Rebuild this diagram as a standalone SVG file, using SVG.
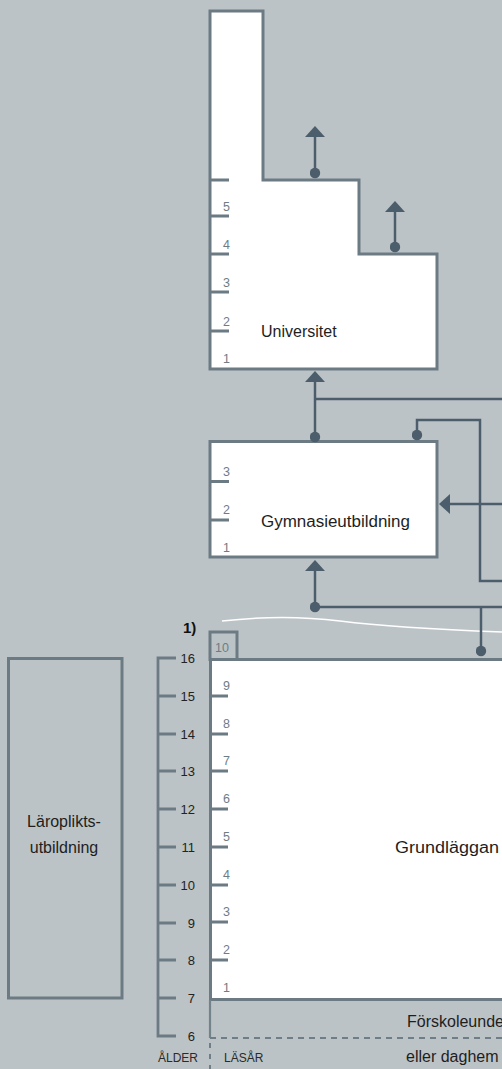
<svg xmlns="http://www.w3.org/2000/svg" width="502" height="1069" viewBox="0 0 502 1069">
<defs>
<style>
.box{fill:#ffffff;stroke:#6c7b83;stroke-width:3}
.boxg{fill:none;stroke:#6c7b83;stroke-width:3}
.tick{stroke:#6c7b83;stroke-width:2.8;fill:none}
.num{font-family:"Liberation Sans",Arial,sans-serif;font-size:12.5px;fill:#6e7d85}
.lbl{font-family:"Liberation Sans",Arial,sans-serif;font-size:16px;fill:#1e1e1e}
.age{font-family:"Liberation Sans",Arial,sans-serif;font-size:13px;fill:#222222;text-anchor:end}
.small{font-family:"Liberation Sans",Arial,sans-serif;font-size:12px;fill:#2a2a2a}
.con{stroke:#4c5e6b;stroke-width:2.5;fill:none}
</style>
<marker id="arrow" markerUnits="userSpaceOnUse" markerWidth="11" markerHeight="20" viewBox="0 0 11 20" refX="0" refY="10" orient="auto">
<path d="M0,0 L11,10 L0,20 Z" fill="#4c5e6b"/>
</marker>
<marker id="dot" markerUnits="userSpaceOnUse" markerWidth="11" markerHeight="11" viewBox="0 0 11 11" refX="5.5" refY="5.5">
<circle cx="5.5" cy="5.5" r="5.2" fill="#4c5e6b"/>
</marker>
</defs>
<rect x="0" y="0" width="502" height="1069" fill="#bcc3c6"/>

<g id="universitet">
<path class="box" d="M210,11 H263 V180 H359 V254 H437 V369 H210 Z"/>
<path class="tick" d="M210,180 H229 M210,216 H229 M210,254 H229 M210,292 H229 M210,331 H229"/>
<text class="num" x="223" y="211">5</text>
<text class="num" x="223" y="249">4</text>
<text class="num" x="223" y="287">3</text>
<text class="num" x="223" y="326">2</text>
<text class="num" x="223" y="363">1</text>
<text class="lbl" x="261" y="337">Universitet</text>
</g>

<g id="gymnasieutbildning">
<rect class="box" x="210" y="441.5" width="227" height="115.5"/>
<path class="tick" d="M210,481.5 H229 M210,520 H229"/>
<text class="num" x="223" y="476">3</text>
<text class="num" x="223" y="514">2</text>
<text class="num" x="223" y="552">1</text>
<text class="lbl" x="261" y="527" textLength="149" lengthAdjust="spacingAndGlyphs">Gymnasieutbildning</text>
</g>

<g id="grundlaggande">
<rect class="boxg" x="210" y="632" width="27" height="27.5"/>
<text class="num" x="215" y="652">10</text>
<rect class="box" x="210.5" y="659.5" width="300" height="340"/>
<path class="tick" d="M210,696 H228 M210,734 H228 M210,771 H228 M210,809 H228 M210,847 H228 M210,885 H228 M210,922 H228 M210,960 H228"/>
<text class="num" x="223" y="690">9</text>
<text class="num" x="223" y="728">8</text>
<text class="num" x="223" y="765">7</text>
<text class="num" x="223" y="803">6</text>
<text class="num" x="223" y="841">5</text>
<text class="num" x="223" y="879">4</text>
<text class="num" x="223" y="916">3</text>
<text class="num" x="223" y="954">2</text>
<text class="num" x="223" y="992">1</text>
<text class="lbl" x="395" y="853" textLength="104" lengthAdjust="spacingAndGlyphs">Grundläggan</text>
</g>

<g id="forskola">
<path d="M210,1000 V1038" stroke="#74838a" stroke-width="2.2" fill="none"/>
<path d="M210,1038 H502" stroke="#6f7e86" stroke-width="2" stroke-dasharray="6 5" fill="none"/>
<path d="M210,1043 V1069" stroke="#6f7e86" stroke-width="2" stroke-dasharray="5 6" fill="none"/>
<text class="lbl" x="407" y="1027">Förskoleunde</text>
<text class="lbl" x="406" y="1062">eller daghem</text>
<text class="small" x="224" y="1062">LÄSÅR</text>
</g>

<g id="alder">
<path class="tick" d="M176,658 H158 V1036 H176 M158,696 H176 M158,734 H176 M158,771 H176 M158,809 H176 M158,847 H176 M158,885 H176 M158,923 H176 M158,960 H176 M158,998 H176"/>
<text class="age" x="195" y="663">16</text>
<text class="age" x="195" y="701">15</text>
<text class="age" x="195" y="739">14</text>
<text class="age" x="195" y="776">13</text>
<text class="age" x="195" y="814">12</text>
<text class="age" x="195" y="852">11</text>
<text class="age" x="195" y="890">10</text>
<text class="age" x="195" y="928">9</text>
<text class="age" x="195" y="965">8</text>
<text class="age" x="195" y="1003">7</text>
<text class="age" x="195" y="1041">6</text>
<text class="small" x="158" y="1062">ÅLDER</text>
<text x="183" y="633" font-family="Liberation Sans, Arial, sans-serif" font-size="15" font-weight="bold" fill="#111111">1)</text>
</g>

<g id="laroplikt">
<rect class="boxg" x="8.5" y="658.5" width="113.5" height="339.5"/>
<text class="lbl" x="64" y="827" text-anchor="middle">Läroplikts-</text>
<text class="lbl" x="64" y="853" text-anchor="middle">utbildning</text>
</g>

<g id="connectors">
<path d="M222,621 C265,616 300,616 340,621 S450,630 502,632" stroke="#ffffff" stroke-width="1.5" fill="none"/>
<path class="con" d="M315,173 V137" marker-start="url(#dot)" marker-end="url(#arrow)"/>
<path class="con" d="M395,247 V212" marker-start="url(#dot)" marker-end="url(#arrow)"/>
<path class="con" d="M315,437 V382" marker-start="url(#dot)" marker-end="url(#arrow)"/>
<path class="con" d="M315,399 H502"/>
<path class="con" d="M417,435 V420 H480 V581 H502" marker-start="url(#dot)"/>
<path class="con" d="M502,504 H450" marker-end="url(#arrow)"/>
<path class="con" d="M315,607 V571" marker-start="url(#dot)" marker-end="url(#arrow)"/>
<path class="con" d="M315,607 H502"/>
<path class="con" d="M481,607 V651" marker-end="url(#dot)"/>
</g>
</svg>
